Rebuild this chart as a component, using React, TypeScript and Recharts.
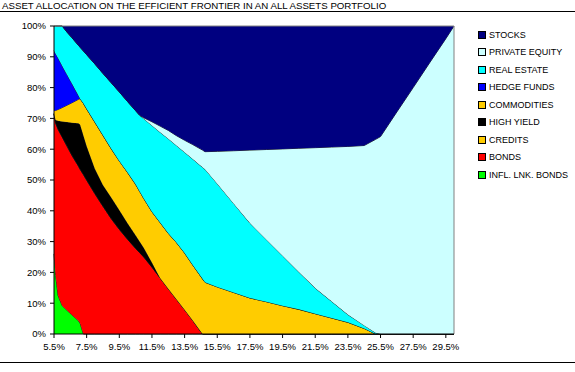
import { AreaChart, Area, XAxis, YAxis, Legend, ReferenceLine } from "recharts";

// portfolio risk (volatility, %) along the frontier
const risk = [
  5.5, 5.6, 5.75, 6.0, 6.3, 6.6, 7.0, 7.1, 7.3, 7.5,
  8.0, 8.5, 9.0, 9.5, 10.0, 10.5, 10.75, 11.0, 11.5, 12.0,
  12.5, 13.0, 13.5, 14.0, 14.6, 14.75, 15.5, 16.5, 17.5, 18.5,
  19.5, 20.5, 21.5, 22.5, 23.5, 24.5, 25.2, 25.5, 26.5, 27.5,
  28.5, 29.5, 30.0,
];

// weights in %, bottom of the stack first
const inflLinked = [
  26, 19, 12.5, 9.2, 7.7, 6.2, 4.3, 3.5, 0, 0,
  0, 0, 0, 0, 0, 0, 0, 0, 0, 0,
  0, 0, 0, 0, 0, 0, 0, 0, 0, 0,
  0, 0, 0, 0, 0, 0, 0, 0, 0, 0,
  0, 0, 0,
];
const bonds = [
  45.5, 49.5, 54, 54.8, 53.3, 51.8, 50.2, 50, 51.8, 50,
  45.6, 41.5, 37.5, 34, 30.8, 27.8, 26.4, 25, 21.7, 18.2,
  14.7, 11.3, 7.9, 4.4, 0, 0, 0, 0, 0, 0,
  0, 0, 0, 0, 0, 0, 0, 0, 0, 0,
  0, 0, 0,
];
const credits = [
  0, 0, 0, 0, 0, 0, 0, 0, 0, 0,
  0, 0, 0, 0, 0, 0, 0, 0, 0, 0,
  0, 0, 0, 0, 0, 0, 0, 0, 0, 0,
  0, 0, 0, 0, 0, 0, 0, 0, 0, 0,
  0, 0, 0,
];
const highYield = [
  0, 1, 2.7, 5, 7.8, 10.6, 13.9, 14.5, 12.7, 11,
  8.1, 6.9, 6.9, 6.3, 5.2, 4.3, 3.6, 3, 1.5, 0,
  0, 0, 0, 0, 0, 0, 0, 0, 0, 0,
  0, 0, 0, 0, 0, 0, 0, 0, 0, 0,
  0, 0, 0,
];
const commodities = [
  1, 3.1, 3.7, 4.5, 5.5, 6.5, 7.8, 8.4, 10.4, 12.1,
  15.1, 16.1, 15.8, 15.9, 16.5, 16.5, 16.3, 16, 16.5, 18,
  18, 18.4, 18.4, 18, 17.9, 16.8, 15.3, 13.5, 11.7, 10.5,
  9.2, 8, 6.6, 5.2, 3.8, 1.8, 0, 0, 0, 0,
  0, 0, 0,
];
const hedgeFunds = [
  19.5, 18.4, 16.7, 13.6, 9.9, 6.2, 1.2, 0, 0, 0,
  0, 0, 0, 0, 0, 0, 0, 0, 0, 0,
  0, 0, 0, 0, 0, 0, 0, 0, 0, 0,
  0, 0, 0, 0, 0, 0, 0, 0, 0, 0,
  0, 0, 0,
];
const realEstate = [
  8, 9, 10.4, 12.9, 13.8, 14.9, 16.3, 16.7, 17, 17.6,
  18.9, 20.1, 21.4, 22.4, 23, 23.9, 24.7, 25.9, 28, 29.3,
  30.7, 31.5, 32.7, 34.4, 36.2, 36.7, 33.5, 28.9, 24.3, 20.2,
  16.2, 12.1, 8.3, 5.4, 2.5, 1, 0.4, 0, 0, 0,
  0, 0, 0,
];
const privateEquity = [
  0, 0, 0, 0, 0, 0, 0, 0, 0, 0,
  0, 0, 0, 0, 0, 0, 0, 0.3, 1.2, 2,
  2.7, 3.2, 3.9, 4.7, 5.6, 5.7, 10.5, 17.1, 23.7, 29.2,
  34.7, 40.2, 45.6, 50.1, 54.6, 58.4, 62.8, 64.1, 72.1, 80,
  88, 95.9, 100,
];
const stocks = [
  0, 0, 0, 0, 2, 3.8, 6.3, 6.9, 8.1, 9.3,
  12.3, 15.4, 18.4, 21.4, 24.5, 27.5, 29, 29.8, 31.1, 32.5,
  33.9, 35.6, 37.1, 38.5, 40.3, 40.8, 40.7, 40.5, 40.3, 40.1,
  39.9, 39.7, 39.5, 39.3, 39.1, 38.8, 36.8, 35.9, 27.9, 20,
  12, 4.1, 0,
];

const xTicks = [5.5, 7.5, 9.5, 11.5, 13.5, 15.5, 17.5, 19.5, 21.5, 23.5, 25.5, 27.5, 29.5];
const yTicks = [0, 10, 20, 30, 40, 50, 60, 70, 80, 90, 100];

const series = [
  { key: "infl", name: "INFL. LNK. BONDS", color: "#00FF00", values: inflLinked },
  { key: "bonds", name: "BONDS", color: "#FF0000", values: bonds },
  { key: "credits", name: "CREDITS", color: "#FFCC00", values: credits },
  { key: "hy", name: "HIGH YIELD", color: "#000000", values: highYield },
  { key: "comm", name: "COMMODITIES", color: "#FFCC00", values: commodities },
  { key: "hf", name: "HEDGE FUNDS", color: "#0000FF", values: hedgeFunds },
  { key: "re", name: "REAL ESTATE", color: "#00FFFF", values: realEstate },
  { key: "pe", name: "PRIVATE EQUITY", color: "#CCFFFF", values: privateEquity },
  { key: "stocks", name: "STOCKS", color: "#000080", values: stocks },
];

const data = risk.map((x, i) => {
  const row: Record<string, number> = { x };
  series.forEach((s) => (row[s.key] = s.values[i]));
  return row;
});

const FONT = '"Liberation Sans", Arial, sans-serif';

function LegendBox() {
  return (
    <div style={{ fontFamily: FONT, fontSize: 9, color: "#000" }}>
      {[...series].reverse().map((s) => (
        <div key={s.key} style={{ height: 17.5, display: "flex", alignItems: "center" }}>
          <span
            style={{
              width: 6,
              height: 6,
              background: s.color,
              border: "1px solid #000",
              marginRight: 3,
              display: "inline-block",
            }}
          />
          <span>{s.name}</span>
        </div>
      ))}
    </div>
  );
}

export default function App() {
  return (
    <div
      style={{
        position: "absolute",
        left: 0,
        top: 0,
        width: 575,
        height: 372,
        background: "#fff",
        fontFamily: FONT,
      }}
    >
      <div style={{ position: "absolute", left: 2, top: 1, fontSize: 9.7, lineHeight: "10px", whiteSpace: "nowrap" }}>
        ASSET ALLOCATION ON THE EFFICIENT FRONTIER IN AN ALL ASSETS PORTFOLIO
      </div>
      <div style={{ position: "absolute", left: 0, top: 11, width: 575, height: 1, background: "#000" }} />
      <div style={{ position: "absolute", left: 0, top: 362, width: 575, height: 1, background: "#000" }} />
      <div style={{ position: "absolute", left: 0, top: 0 }}>
        <AreaChart width={575} height={372} data={data} margin={{ top: 26, right: 121, bottom: 8, left: 0 }}>
          <XAxis
            dataKey="x"
            type="number"
            domain={[5.5, 30]}
            ticks={xTicks}
            interval={0}
            tickFormatter={(v: number) => v.toFixed(1) + "%"}
            height={30}
            tickSize={4}
            tickMargin={5}
            stroke="#000"
            tick={{ fill: "#000", fontSize: 9.5, fontFamily: FONT }}
          />
          <YAxis
            domain={[0, 100]}
            ticks={yTicks}
            interval={0}
            tickFormatter={(v: number) => v + "%"}
            width={54}
            tickSize={4}
            tickMargin={4}
            stroke="#000"
            tick={{ fill: "#000", fontSize: 9.5, fontFamily: FONT }}
          />
          {series.map((s) => (
            <Area
              key={s.key}
              dataKey={s.key}
              name={s.name}
              stackId="1"
              type="linear"
              fill={s.color}
              fillOpacity={1}
              stroke={s.key === "stocks" ? "none" : "#1a1a1a"}
              strokeWidth={0.9}
              isAnimationActive={false}
            />
          ))}
          <ReferenceLine y={100} stroke="#808080" />
          <ReferenceLine x={30} stroke="#808080" />
          <Legend
            layout="vertical"
            verticalAlign="middle"
            align="center"
            content={() => <LegendBox />}
            wrapperStyle={{ left: 478, top: 26, width: 97 }}
          />
        </AreaChart>
      </div>
    </div>
  );
}
